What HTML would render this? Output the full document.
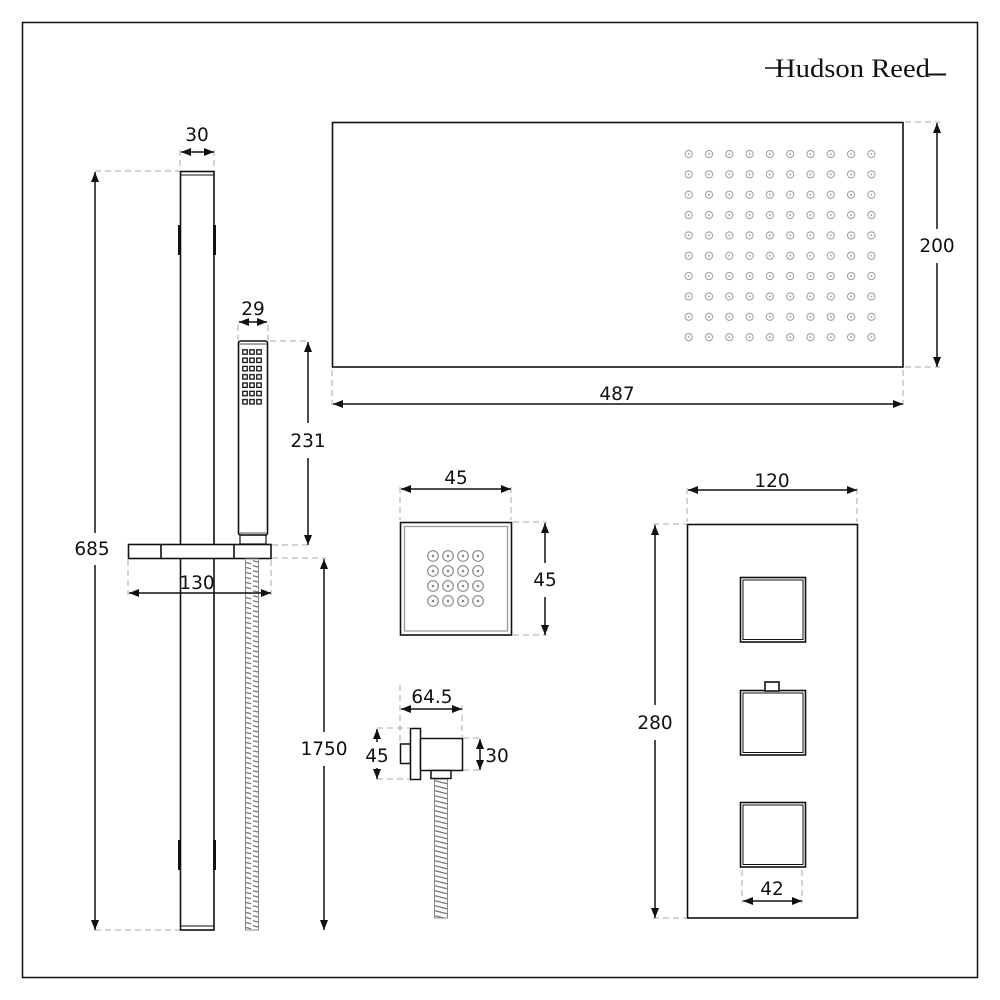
<!DOCTYPE html>
<html><head><meta charset="utf-8"><style>
html,body{margin:0;padding:0;background:#fff}
svg{display:block}
text{font-family:"DejaVu Sans","Liberation Sans",sans-serif;font-size:18.5px;fill:#111}
</style></head><body>
<svg width="1000" height="1000" viewBox="0 0 1000 1000" xmlns="http://www.w3.org/2000/svg">
<defs>
<marker id="a" viewBox="0 0 10 10" refX="10" refY="5" markerWidth="10" markerHeight="10" markerUnits="userSpaceOnUse" orient="auto-start-reverse"><path d="M0,1 L10,5 L0,9 z" fill="#111"/></marker>
<pattern id="dots" x="678.7" y="144" width="20.3" height="20.35" patternUnits="userSpaceOnUse">
<circle cx="10" cy="10" r="3.6" fill="none" stroke="#999" stroke-width="1"/><circle cx="10" cy="10" r="0.9" fill="#999"/></pattern>
<pattern id="jet" x="425.5" y="548.5" width="15" height="15" patternUnits="userSpaceOnUse">
<circle cx="7.5" cy="7.5" r="5.3" fill="none" stroke="#888" stroke-width="1.2"/><circle cx="7.5" cy="7.5" r="1.3" fill="#888"/></pattern>
<pattern id="hose" x="0" y="0" width="14" height="5" patternUnits="userSpaceOnUse">
<path d="M1,0.8 L13,3.8" stroke="#777" stroke-width="1.3"/></pattern>
<pattern id="noz" x="242" y="349" width="7" height="8.3" patternUnits="userSpaceOnUse">
<rect x="0.8" y="0.8" width="4.4" height="4.4" fill="none" stroke="#111" stroke-width="1.3"/></pattern>
</defs>
<rect x="22.5" y="22.5" width="955" height="955" fill="none" stroke="#111" stroke-width="1.5"/>
<!-- logo -->
<text x="775" y="77" textLength="155" lengthAdjust="spacingAndGlyphs" style="font-family:'Liberation Serif','DejaVu Serif',serif;font-size:26px">Hudson Reed</text>
<line x1="765" y1="68" x2="790" y2="68" stroke="#111" stroke-width="1.5"/>
<line x1="928" y1="74.5" x2="946" y2="74.5" stroke="#111" stroke-width="2"/>

<g fill="none" stroke="#aaa" stroke-width="1" stroke-dasharray="6,4">
<line x1="95" y1="171" x2="180" y2="171"/><line x1="95" y1="930" x2="180" y2="930"/>
<line x1="180" y1="150" x2="180" y2="170"/><line x1="214" y1="150" x2="214" y2="170"/>
<line x1="238" y1="325" x2="238" y2="340"/><line x1="268" y1="325" x2="268" y2="340"/>
<line x1="270" y1="341" x2="310" y2="341"/><line x1="272" y1="545" x2="310" y2="545"/>
<line x1="272" y1="558" x2="326" y2="558"/>
<line x1="128" y1="560" x2="128" y2="595"/><line x1="271" y1="560" x2="271" y2="595"/>
<line x1="905" y1="122" x2="940" y2="122"/><line x1="905" y1="367" x2="940" y2="367"/>
<line x1="332" y1="370" x2="332" y2="405"/><line x1="903" y1="370" x2="903" y2="405"/>
<line x1="400" y1="487" x2="400" y2="520"/><line x1="511" y1="487" x2="511" y2="520"/>
<line x1="513" y1="522" x2="547" y2="522"/><line x1="513" y1="635" x2="547" y2="635"/>
<line x1="400" y1="685" x2="400" y2="742"/><line x1="462" y1="705" x2="462" y2="737"/>
<line x1="377" y1="728" x2="409" y2="728"/><line x1="377" y1="779" x2="409" y2="779"/>
<line x1="463" y1="738" x2="482" y2="738"/><line x1="463" y1="770" x2="482" y2="770"/>
<line x1="687" y1="488" x2="687" y2="522"/><line x1="857" y1="488" x2="857" y2="522"/>
<line x1="653" y1="524" x2="686" y2="524"/><line x1="653" y1="918" x2="686" y2="918"/>
<line x1="742" y1="870" x2="742" y2="903"/><line x1="802" y1="870" x2="802" y2="903"/>
</g>

<g fill="none" stroke="#111" stroke-width="1.6">
<rect x="180.5" y="171.5" width="33.5" height="758.5" fill="#fff"/>
<line x1="181" y1="175" x2="214" y2="175" stroke-width="1"/>
<line x1="181" y1="926" x2="214" y2="926" stroke-width="1"/>
<rect x="238.5" y="341" width="29" height="194" rx="2"/>
<line x1="239" y1="344" x2="267" y2="344" stroke="#888" stroke-width="1.5"/>
<line x1="239" y1="533" x2="267" y2="533" stroke="#888" stroke-width="1.5"/>
<rect x="240" y="535" width="26" height="9" stroke-width="1.2"/>
<rect x="128.5" y="544.5" width="142.5" height="14" fill="#fff"/>
<line x1="161" y1="545" x2="161" y2="558"/><line x1="234" y1="545" x2="234" y2="558"/>
</g>
<g fill="#111">
<rect x="178" y="225" width="3" height="30"/><rect x="213" y="225" width="3" height="30"/>
<rect x="178" y="840" width="3" height="30"/><rect x="213" y="840" width="3" height="30"/>
</g>
<rect x="242" y="349" width="21" height="58" fill="url(#noz)"/>
<rect x="245.5" y="559" width="13" height="371" fill="url(#hose)" stroke="#888" stroke-width="1"/>
<rect x="434.5" y="779" width="13" height="139" fill="url(#hose)" stroke="#888" stroke-width="1"/>

<rect x="332.5" y="122.5" width="570.5" height="244.5" fill="none" stroke="#111" stroke-width="1.6"/>
<rect x="678" y="144" width="203.5" height="203.5" fill="url(#dots)"/>

<rect x="400.5" y="522.5" width="111" height="112.5" fill="none" stroke="#111" stroke-width="1.6"/>
<rect x="404.5" y="526.5" width="103" height="104.5" fill="none" stroke="#999" stroke-width="1.3"/>
<rect x="425.5" y="548.5" width="60" height="60" fill="url(#jet)"/>

<g fill="#fff" stroke="#111" stroke-width="1.5">
<rect x="400.5" y="744" width="10" height="19.5"/>
<rect x="410.5" y="728.5" width="10" height="51"/>
<rect x="420.5" y="738.5" width="42" height="32"/>
<rect x="431" y="770.5" width="20" height="8"/>
</g>

<g fill="none" stroke="#111" stroke-width="1.6">
<rect x="687.5" y="524.5" width="170" height="393.5"/>
<rect x="740.5" y="577.5" width="65" height="64.5"/><rect x="743" y="580" width="60" height="59.5" stroke-width="1"/>
<rect x="740.5" y="690.5" width="65" height="64.5"/><rect x="743" y="693" width="60" height="59.5" stroke-width="1"/>
<rect x="765" y="682" width="14" height="9" fill="#fff"/>
<rect x="740.5" y="802.5" width="65" height="64.5"/><rect x="743" y="805" width="60" height="59.5" stroke-width="1"/>
</g>

<g stroke="#111" stroke-width="1.5" marker-start="url(#a)" marker-end="url(#a)">
<line x1="181" y1="152" x2="214" y2="152"/>
<line x1="95" y1="172" x2="95" y2="533" marker-end="none"/>
<line x1="95" y1="565" x2="95" y2="930" marker-start="none"/>
<line x1="239" y1="322" x2="267" y2="322"/>
<line x1="308" y1="342" x2="308" y2="423" marker-end="none"/>
<line x1="308" y1="458" x2="308" y2="545" marker-start="none"/>
<line x1="129" y1="593" x2="271" y2="593"/>
<line x1="324" y1="559" x2="324" y2="732" marker-end="none"/>
<line x1="324" y1="766" x2="324" y2="930" marker-start="none"/>
<line x1="937" y1="123" x2="937" y2="229" marker-end="none"/>
<line x1="937" y1="263" x2="937" y2="367" marker-start="none"/>
<line x1="333" y1="404" x2="903" y2="404"/>
<line x1="401" y1="489" x2="511" y2="489"/>
<line x1="545" y1="523" x2="545" y2="563" marker-end="none"/>
<line x1="545" y1="597" x2="545" y2="635" marker-start="none"/>
<line x1="401" y1="709" x2="462" y2="709"/>
<line x1="377" y1="729" x2="377" y2="742" marker-end="none"/>
<line x1="377" y1="768" x2="377" y2="779" marker-start="none"/>
<line x1="480" y1="739" x2="480" y2="770"/>
<line x1="688" y1="490" x2="857" y2="490"/>
<line x1="655" y1="525" x2="655" y2="705" marker-end="none"/>
<line x1="655" y1="740" x2="655" y2="918" marker-start="none"/>
<line x1="743" y1="901" x2="802" y2="901"/>
</g>
<g text-anchor="middle">
<text x="197" y="141">30</text>
<text x="92" y="555">685</text>
<text x="253" y="315">29</text>
<text x="308" y="447">231</text>
<text x="197" y="589">130</text>
<text x="324" y="755">1750</text>
<text x="937" y="252">200</text>
<text x="617" y="400">487</text>
<text x="456" y="484">45</text>
<text x="545" y="586">45</text>
<text x="432" y="703">64.5</text>
<text x="377" y="762">45</text>
<text x="497" y="762">30</text>
<text x="772" y="487">120</text>
<text x="655" y="729">280</text>
<text x="772" y="895">42</text>
</g>
</svg>
</body></html>
